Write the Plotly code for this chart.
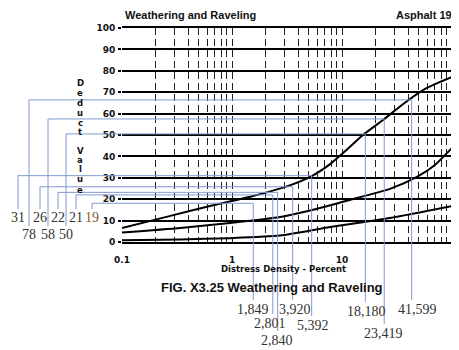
import plotly.graph_objects as go

# ---------------- data ----------------
x_tick_vals = [0.1, 1, 10, 100]
x_tick_text = ["0.1", "1", "10", "100"]
y_tick_vals = [0, 10, 20, 30, 40, 50, 60, 70, 80, 90, 100]
y_tick_text = ["0", "10", "20", "30", "40", "50", "60", "70", "80", "90", "100"]

high_density = [0.1, 0.27, 0.63, 1.55, 3.4, 5.3, 7.8, 11, 15.5, 23.6, 36, 54.5, 78, 100]
high_deduct = [6.5, 12.1, 16.8, 21.5, 26.6, 30.8, 36.4, 43.0, 50.0, 57.0, 64.5, 71.0, 74.8, 77.1]

med_density = [0.1, 0.34, 0.96, 2.73, 6.3, 13.7, 27.3, 48, 70, 100]
med_deduct = [4.4, 6.5, 8.9, 11.7, 15.9, 20.6, 24.8, 30.4, 36.0, 44.0]

low_density = [0.1, 0.34, 0.96, 2.73, 7.8, 27.3, 100]
low_deduct = [0.8, 1.2, 1.8, 3.0, 7.0, 11.2, 16.8]

# hand-drawn reading guides (label text, where the guide line sits)
read_density_text = ["1,849", "2,801", "2,840", "3,920", "5,392", "18,180", "23,419", "41,599"]
read_density_at = [1.56, 2.35, 2.6, 3.56, 5.3, 16.3, 24.2, 43.0]
read_deduct_text = ["19", "21", "22", "26", "31", "50", "58", "78"]
read_deduct_at = [18.1, 22.0, 23.2, 25.8, 31.0, 50.5, 57.5, 66.4]

y_title_letters = ["D", "e", "d", "u", "c", "t", "V", "a", "l", "u", "e"]

# ---------------- layout geometry (page pixels) ----------------
OFF = 8                      # browser default body margin
W, H = 459 - OFF, 350 - OFF  # figure size so the page is filled exactly
PL, PR, PT, PB = 122, 452, 28, 242   # plot area in page pixels
L, T = PL - OFF, PT - OFF
R, B = (W + OFF) - PR, (H + OFF) - PB
PW, PH = PR - PL, PB - PT

def px(x):
    return (x - PL) / PW

def py(y):
    return (PB - y) / PH

left_label_pos = [(92, 217), (76, 217), (58, 217), (40, 217), (18, 217),
                  (66, 234), (48, 234), (29, 234)]
bottom_label_pos = [(253, 309), (270, 323), (277, 340), (295, 309), (313, 325),
                    (366, 311), (383, 333), (417, 309)]
left_label_colors = ["#8a5a2b", "#333", "#333", "#333", "#333", "#333", "#333", "#333"]
y_title_rows = [83, 93, 103, 113, 123, 132, 151, 160, 169, 179, 190]

BLUE = "#8199d0"
curve_style = dict(color="black", width=2, shape="spline", smoothing=0.6)

fig = go.Figure()
for xs, ys in [(high_density, high_deduct), (med_density, med_deduct), (low_density, low_deduct)]:
    fig.add_trace(go.Scatter(x=xs, y=ys, mode="lines", line=curve_style,
                             showlegend=False, hoverinfo="skip"))

shapes = []
annotations = []
for i in range(len(read_density_at)):
    xv = read_density_at[i]
    vh = read_deduct_at[i]
    lx, ly = left_label_pos[i]
    bx, by = bottom_label_pos[i]
    line = dict(color=BLUE, width=1)
    shapes.append(dict(type="line", xref="paper", yref="y", x0=px(lx), x1=px(lx),
                       y0=py(ly - 8) * 100, y1=vh, line=line))
    shapes.append(dict(type="line", xref="paper", yref="y", x0=px(lx), x1=0,
                       y0=vh, y1=vh, line=line))
    shapes.append(dict(type="line", xref="x", yref="y", x0=0.1, x1=xv,
                       y0=vh, y1=vh, line=line))
    shapes.append(dict(type="line", xref="x", yref="y", x0=xv, x1=xv,
                       y0=vh, y1=0, line=line))
    shapes.append(dict(type="line", xref="x", yref="paper", x0=xv, x1=xv,
                       y0=0, y1=py(by - 9), line=line))
    annotations.append(dict(text=read_deduct_text[i], xref="paper", yref="paper",
                            x=px(lx), y=py(ly), showarrow=False, xanchor="center",
                            yanchor="middle",
                            font=dict(family="Liberation Serif", size=14,
                                      color=left_label_colors[i])))
    annotations.append(dict(text=read_density_text[i], xref="paper", yref="paper",
                            x=px(bx), y=py(by), showarrow=False, xanchor="center",
                            yanchor="middle",
                            font=dict(family="Liberation Serif", size=14, color="#333")))

# right border
shapes.append(dict(type="line", xref="paper", yref="paper", x0=1, x1=1, y0=0, y1=1,
                   line=dict(color="black", width=2)))

for letter, row in zip(y_title_letters, y_title_rows):
    annotations.append(dict(text="<b>" + letter + "</b>", xref="paper", yref="paper",
                            x=px(80), y=py(row), xanchor="center", yanchor="middle",
                            showarrow=False,
                            font=dict(family="DejaVu Sans", size=8.5, color="#111")))

bold_sans = "Liberation Sans"
annotations += [
    dict(text="<b>Weathering and Raveling</b>", xref="paper", yref="paper",
         x=px(123), y=py(15), xanchor="left", yanchor="middle", showarrow=False,
         font=dict(family=bold_sans, size=11, color="#111")),
    dict(text="<b>Asphalt 19</b>", xref="paper", yref="paper",
         x=px(454), y=py(15), xanchor="right", yanchor="middle", showarrow=False,
         font=dict(family=bold_sans, size=11, color="#111")),
    dict(text="<b>Distress Density - Percent</b>", xref="paper", yref="paper",
         x=px(283), y=py(269), xanchor="center", yanchor="middle", showarrow=False,
         font=dict(family="DejaVu Sans", size=8.5, color="#111")),
    dict(text="<b>FIG. X3.25 Weathering and Raveling</b>", xref="paper", yref="paper",
         x=px(272), y=py(287), xanchor="center", yanchor="middle", showarrow=False,
         font=dict(family=bold_sans, size=13, color="#111")),
    dict(text="<b>M</b>", xref="paper", yref="paper", x=px(456), y=py(145),
         xanchor="left", yanchor="middle", showarrow=False,
         font=dict(family=bold_sans, size=12, color="#111")),
    dict(text="<b>L</b>", xref="paper", yref="paper", x=px(455), y=py(205),
         xanchor="left", yanchor="middle", showarrow=False,
         font=dict(family=bold_sans, size=12, color="#111")),
]

minor_vals = [m * d for d in (0.1, 1, 10) for m in range(2, 10)]

fig.update_layout(
    width=W, height=H,
    margin=dict(l=L, r=R, t=T, b=B, pad=0, autoexpand=False),
    paper_bgcolor="white", plot_bgcolor="white",
    shapes=shapes, annotations=annotations,
    showlegend=False,
    xaxis=dict(type="log", range=[-1, 2], tickvals=x_tick_vals, ticktext=x_tick_text,
               showgrid=True, gridcolor="#222", gridwidth=1.4, griddash="7px,4px",
               minor=dict(tickvals=minor_vals, showgrid=True, gridcolor="#222",
                          gridwidth=1.4, griddash="7px,4px"),
               showline=True, linecolor="black", linewidth=2, mirror=True,
               ticks="", ticklabelstandoff=8, zeroline=False, automargin=False,
               tickfont=dict(family="DejaVu Sans", size=9, color="#111", weight="bold")),
    yaxis=dict(range=[0, 100], tickvals=y_tick_vals, ticktext=y_tick_text,
               showgrid=True, gridcolor="black", gridwidth=2, zeroline=False,
               showline=False, ticks="outside", ticklen=3, tickcolor="black",
               tickwidth=2, ticklabelstandoff=1, automargin=False,
               tickfont=dict(family="DejaVu Sans", size=9, color="#111", weight="bold")),
)

fig.write_html("out.html")
